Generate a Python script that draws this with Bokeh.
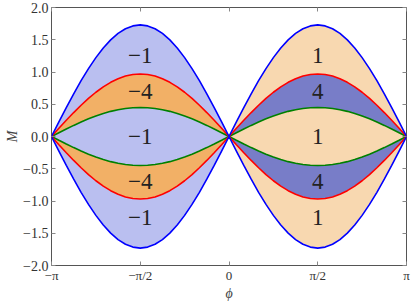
import numpy as np
from bokeh.plotting import figure
from bokeh.models import FixedTicker, LinearAxis, Range1d
from bokeh.core.properties import value
from bokeh.embed import file_html
from bokeh.resources import INLINE

# one hump of each curve, read at phi steps of pi/24 over a half period
blue_hump = [0, .226, .448, .662, .865, 1.053, 1.223, 1.373, 1.498, 1.598, 1.671, 1.715, 1.73,
             1.715, 1.671, 1.598, 1.498, 1.373, 1.223, 1.053, .865, .662, .448, .226, 0]
red_hump = [0, .127, .251, .371, .485, .591, .686, .770, .840, .896, .937, .962, .97,
            .962, .937, .896, .840, .770, .686, .591, .485, .371, .251, .127, 0]
green_hump = [0, .059, .116, .172, .225, .274, .318, .357, .390, .416, .435, .446, .45,
              .446, .435, .416, .390, .357, .318, .274, .225, .172, .116, .059, 0]

left_labels = ["\u22121", "\u22124", "\u22121", "\u22124", "\u22121"]
right_labels = ["1", "4", "1", "4", "1"]
label_y = [1.25, 0.7, 0.0, -0.7, -1.25]

x_ticks = [-np.pi, -np.pi / 2, 0, np.pi / 2, np.pi]
x_tick_labels = ["\u2212\u03c0", "\u2212\u03c0/2", "0", "\u03c0/2", "\u03c0"]
y_ticks = [-2.0, -1.5, -1.0, -0.5, 0.0, 0.5, 1.0, 1.5, 2.0]
y_tick_labels = ["\u22122.0", "\u22121.5", "\u22121.0", "\u22120.5", "0.0", "0.5", "1.0", "1.5", "2.0"]

LIGHT_BLUE = "#babff0"
ORANGE = "#f2b066"
DARK_BLUE = "#787dc8"
PEACH = "#f8d8b0"

phi_left = np.linspace(-np.pi, 0, len(blue_hump))
phi_right = np.linspace(0, np.pi, len(blue_hump))
phi_all = np.concatenate([phi_left, phi_right[1:]])

b = np.array(blue_hump)
r = np.array(red_hump)
g = np.array(green_hump)

p = figure(width=415, height=303, output_backend="svg", toolbar_location=None,
           x_range=Range1d(-np.pi, np.pi), y_range=Range1d(-2, 2),
           min_border_left=51, min_border_right=9, min_border_top=7, min_border_bottom=37)
p.grid.visible = False
p.outline_line_color = "#555555"
p.outline_line_width = 1
p.background_fill_color = "white"
p.border_fill_color = "white"

# bands
for phi, cols in [(phi_left, [LIGHT_BLUE, ORANGE, LIGHT_BLUE]),
                  (phi_right, [PEACH, DARK_BLUE, PEACH])]:
    p.varea(x=phi, y1=r, y2=b, fill_color=cols[0])
    p.varea(x=phi, y1=g, y2=r, fill_color=cols[1])
    p.varea(x=phi, y1=-g, y2=g, fill_color=cols[2])
    p.varea(x=phi, y1=-r, y2=-g, fill_color=cols[1])
    p.varea(x=phi, y1=-b, y2=-r, fill_color=cols[0])

for hump, col in [(g, "#008000"), (r, "#ff0000"), (b, "#0000ff")]:
    full = np.concatenate([hump, hump[1:]])
    p.line(phi_all, full, line_color=col, line_width=1.6)
    p.line(phi_all, -full, line_color=col, line_width=1.6)

p.text(x=[-np.pi / 2] * 5, y=label_y, text=left_labels, text_align="center",
       text_baseline="middle", text_font=value("Liberation Serif"),
       text_font_size="23px", text_color="#222222")
p.text(x=[np.pi / 2] * 5, y=label_y, text=right_labels, text_align="center",
       text_baseline="middle", text_font=value("Liberation Serif"),
       text_font_size="23px", text_color="#222222")

def style_axis(ax):
    ax.axis_line_color = None
    ax.major_tick_in = 4
    ax.major_tick_out = 0
    ax.major_tick_line_color = "#888888"
    ax.minor_tick_line_color = None
    ax.major_label_text_font = "Liberation Serif"
    ax.major_label_text_font_size = "14px"
    ax.major_label_text_color = "#333333"

p.xaxis.ticker = FixedTicker(ticks=x_ticks)
p.xaxis.major_label_overrides = {t: l for t, l in zip(x_ticks, x_tick_labels)}
p.yaxis.ticker = FixedTicker(ticks=y_ticks)
p.yaxis.major_label_overrides = {t: l for t, l in zip(y_ticks, y_tick_labels)}
style_axis(p.xaxis[0])
style_axis(p.yaxis[0])
p.xaxis.major_label_text_font_size = "13px"
p.xaxis.major_label_standoff = 2
p.yaxis.major_label_standoff = 3
p.xaxis.axis_label = "\u03d5"
p.yaxis.axis_label = "M"
for ax in (p.xaxis[0], p.yaxis[0]):
    ax.axis_label_text_font = "Liberation Serif"
    ax.axis_label_text_font_style = "italic"
    ax.axis_label_text_font_size = "14px"
    ax.axis_label_text_color = "#444444"
    ax.axis_label_standoff = 0

top = LinearAxis(ticker=FixedTicker(ticks=x_ticks))
style_axis(top)
top.major_label_overrides = {t: "" for t in x_ticks}
top.major_label_standoff = 0
top.major_label_text_font_size = "1px"
p.add_layout(top, "above")
right = LinearAxis(ticker=FixedTicker(ticks=y_ticks))
style_axis(right)
right.major_label_overrides = {t: "" for t in y_ticks}
right.major_label_standoff = 0
right.major_label_text_font_size = "1px"
p.add_layout(right, "right")

open("out.html", "w").write(file_html(p, INLINE))
